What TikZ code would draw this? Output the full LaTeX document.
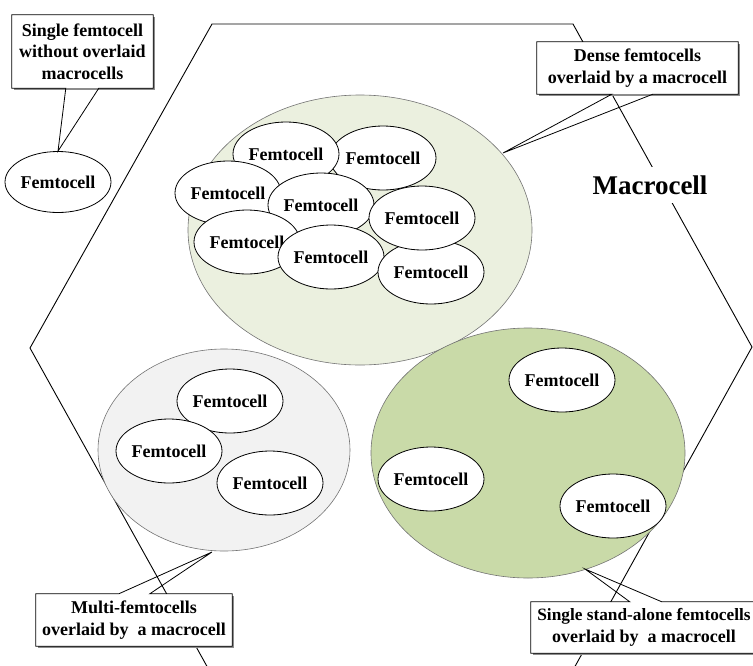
\documentclass[tikz,border=0pt]{standalone}
\usepackage{fontspec}
\setmainfont{Liberation Serif}
\usetikzlibrary{shapes.geometric,shadows,calc}
\definecolor{densefill}{HTML}{EBF0DF}
\definecolor{multifill}{HTML}{F2F2F2}
\definecolor{alonefill}{HTML}{C9DAA8}
\begin{document}
\begin{tikzpicture}[x=1pt,y=-1pt,
  femto/.style={ellipse,draw=black,line width=0.8pt,fill=white,minimum width=102pt,minimum height=64pt,inner sep=0pt,font=\fontsize{18}{22}\selectfont\bfseries},
  region/.style={ellipse,draw=black!55,line width=0.6pt,inner sep=0pt},
  callbox/.style={rectangle,fill=white,inner sep=0pt,align=center,font=\fontsize{18}{21.5}\selectfont\bfseries,drop shadow={shadow xshift=2pt,shadow yshift=-2pt,fill=black!45,opacity=1}},
  hexline/.style={line width=0.9pt,draw=black},
  pointer/.style={line width=0.8pt,draw=black,line join=miter}]
\useasboundingbox (0,0) rectangle (753,665);

% hexagon (macrocell)
\coordinate (h1) at (212,24);
\coordinate (h2) at (573,24);
\coordinate (h3) at (752,347);
\coordinate (h4) at (573,670);
\coordinate (h5) at (209,670);
\coordinate (h6) at (30,348);
\draw[hexline] (h1) -- (h2) -- (h3) -- (h4) -- (h5) -- (h6) -- cycle;

% region ellipses
\node[region,fill=densefill,minimum width=344pt,minimum height=270pt] (dense) at (360,230) {};
\node[region,fill=multifill,minimum width=252pt,minimum height=202pt] (multi) at (224,450) {};
\node[region,fill=alonefill,minimum width=314pt,minimum height=250pt] (alone) at (528,453) {};

% dense femtocells
\node[femto] (f2) at (383,158) {Femtocell};
\node[femto] (f1) at (286,154) {Femtocell};
\node[femto] (f3) at (228,193) {Femtocell};
\node[femto] (f4) at (321,205) {Femtocell};
\node[femto] (f6) at (247,242) {Femtocell};
\node[femto] (f7) at (331,257) {Femtocell};
\node[femto] (f8) at (431,272) {Femtocell};
\node[femto] (f5) at (422,218) {Femtocell};

% multi femtocells
\node[femto] (ma) at (230,401) {Femtocell};
\node[femto] (mb) at (169,451) {Femtocell};
\node[femto] (mc) at (270,483) {Femtocell};

% stand-alone femtocells
\node[femto] (sd) at (562,380) {Femtocell};
\node[femto] (se) at (431,479) {Femtocell};
\node[femto] (sf) at (613,506) {Femtocell};

% isolated femtocell
\node[femto,minimum width=90pt,minimum height=61pt] (iso) at (58,182) {Femtocell};

% Macrocell label
\node[fill=white,inner sep=0pt,minimum height=36pt,font=\fontsize{27}{30}\selectfont\bfseries] (mlabel) at (650,185) {Macrocell};

% callout boxes
\node[callbox,minimum width=141pt,minimum height=73pt] (bsingle) at (82.5,51.5) {Single femtocell\\without overlaid\\macrocells};
\node[callbox,minimum width=201pt,minimum height=52pt] (bdense) at (637.5,68) {Dense femtocells\\overlaid by a macrocell};
\node[callbox,minimum width=196pt,minimum height=52pt] (bmulti) at (134,620) {Multi-femtocells\\overlaid by~ a macrocell};
\node[callbox,minimum width=226pt,minimum height=51pt] (balone) at (644,627.5) {{\fontsize{17.3}{21.5}\selectfont Single stand-alone femtocells}\\overlaid by~ a macrocell};

% pointer tips
\coordinate (tsingle) at (iso.north);
\coordinate (tdense) at (503,153);
\coordinate (tmulti) at (212,552);
\coordinate (talone) at (585,569);

% callout outlines (bottom pointers)
\draw[pointer] ($(bsingle.south west)+(87,0)$) -- (bsingle.south east) -- (bsingle.north east) -- (bsingle.north west) -- (bsingle.south west) -- ($(bsingle.south west)+(54,0)$) -- (tsingle) -- cycle;
\draw[pointer] ($(bdense.south west)+(116,0)$) -- (bdense.south east) -- (bdense.north east) -- (bdense.north west) -- (bdense.south west) -- ($(bdense.south west)+(75,0)$) -- (tdense) -- cycle;
% callout outlines (top pointers)
\draw[pointer] ($(bmulti.north west)+(114,0)$) -- (bmulti.north east) -- (bmulti.south east) -- (bmulti.south west) -- (bmulti.north west) -- ($(bmulti.north west)+(83,0)$) -- (tmulti) -- cycle;
\draw[pointer] ($(balone.north west)+(131,0)$) -- (balone.north east) -- (balone.south east) -- (balone.south west) -- (balone.north west) -- ($(balone.north west)+(99,0)$) -- (talone) -- cycle;
\end{tikzpicture}
\end{document}
